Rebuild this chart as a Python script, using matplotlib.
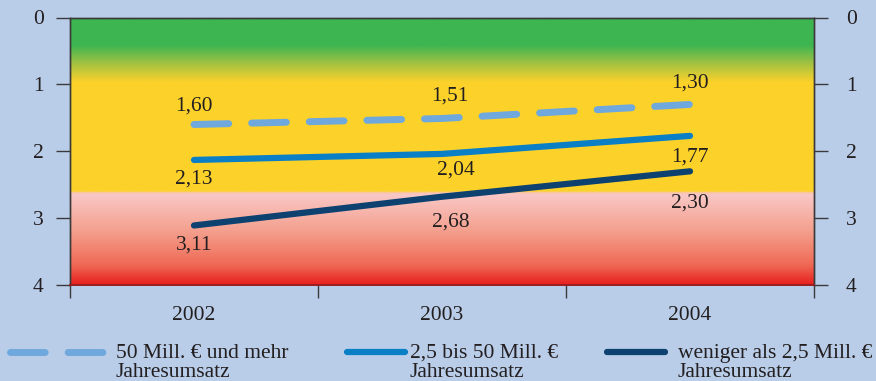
import matplotlib

matplotlib.use("Agg")

import matplotlib.pyplot as plt
import numpy as np
from matplotlib.colors import LinearSegmentedColormap
from matplotlib.lines import Line2D

# --------------------------------------------------------------------------- #
# Data
# --------------------------------------------------------------------------- #
years = ["2002", "2003", "2004"]
series_names = [
    ("50 Mill. € und mehr", "Jahresumsatz"),
    ("2,5 bis 50 Mill. €", "Jahresumsatz"),
    ("weniger als 2,5 Mill. €", "Jahresumsatz"),
]
large = [1.60, 1.51, 1.30]
medium = [2.13, 2.04, 1.77]
small = [3.11, 2.68, 2.30]

# --------------------------------------------------------------------------- #
# Style
# --------------------------------------------------------------------------- #
_BG = "#b9cde9"
_TEXT = "#231f20"
_SPINE = "#3a3a3a"
_LIGHT = "#6fa8dc"
_MID = "#0a7fc6"
_DARK = "#0c4170"
_FONT = "Liberation Serif"
_FS = 15.5

plt.rcParams["font.family"] = [_FONT, "DejaVu Serif"]

# label offsets in pixels (dx, dy) relative to each point, y up
label_offsets = [
    [(0, 18), (8, 22), (0, 21)],
    [(0, -19), (14, -16), (0, -21)],
    [(0, -20), (9, -25), (0, -32)],
]

fig = plt.figure(figsize=(8.76, 3.81), dpi=100, facecolor=_BG)
ax = fig.add_axes([70 / 876, 1 - 285 / 381, 744 / 876, 267.5 / 381])
ax.set_facecolor(_BG)

# background gradient: green -> yellow -> pink -> red
stops = [
    (0.0, "#3db651"),
    (0.42 / 4, "#3db651"),
    (0.70 / 4, "#a6c241"),
    (0.97 / 4, "#fcd22a"),
    (2.60 / 4, "#fcd22a"),
    (2.625 / 4, "#f9c4b0"),
    (2.65 / 4, "#f9c8c6"),
    (3.20 / 4, "#f49f8d"),
    (3.70 / 4, "#ef6a55"),
    (1.0, "#e81e1e"),
]
cmap = LinearSegmentedColormap.from_list("zones", stops, N=1024)
grad = np.linspace(0, 1, 1000).reshape(-1, 1)
ax.imshow(grad, cmap=cmap, aspect="auto", extent=(-0.5, 2.5, 4, 0),
          interpolation="bilinear", zorder=0)

xs = np.arange(len(years))
styles = [
    dict(color=_LIGHT, lw=5, ls=(0, (5, 3.3)), dash_capstyle="round"),
    dict(color=_MID, lw=4.5, solid_capstyle="round"),
    dict(color=_DARK, lw=4.5, solid_capstyle="round"),
]
for vals, st, offs in zip([large, medium, small], styles, label_offsets):
    ax.plot(xs, vals, zorder=3, **st)
    for x, v, (dx, dy) in zip(xs, vals, offs):
        ax.annotate(f"{v:.2f}".replace(".", ","), (x, v),
                    textcoords="offset pixels", xytext=(dx, dy),
                    ha="center", va="center", fontsize=_FS, color=_TEXT,
                    zorder=4)

ax.set_xlim(-0.5, 2.5)
ax.set_ylim(4, 0)

# x axis: labels at centers, ticks at boundaries
ax.set_xticks(xs)
ax.set_xticklabels(years)
ax.set_xticks([-0.5, 0.5, 1.5, 2.5], minor=True)
ax.tick_params(axis="x", which="major", length=0, pad=15, labelsize=_FS,
               labelcolor=_TEXT)
ax.tick_params(axis="x", which="minor", length=9.5, width=1, color=_SPINE,
               direction="out")

# y axis left
ax.set_yticks([0, 1, 2, 3, 4])
ax.tick_params(axis="y", which="major", length=10, width=1, color=_SPINE,
               pad=9, labelsize=_FS, labelcolor=_TEXT)

# y axis right
ax2 = ax.twinx()
ax2.set_ylim(4, 0)
ax2.set_yticks([0, 1, 2, 3, 4])
ax2.tick_params(axis="y", length=10, width=1, color=_SPINE, pad=13,
                labelsize=_FS, labelcolor=_TEXT)

for a in (ax, ax2):
    for side in ("left", "right", "top"):
        a.spines[side].set_color(_SPINE)
        a.spines[side].set_linewidth(1)
    a.spines["bottom"].set_color("#9b1c1c")
    a.spines["bottom"].set_linewidth(1.2)

# legend drawn manually in figure pixels
W, H = 876, 381
handles = [(10, 105), (347, 405), (607, 665)]
text_x = [116, 410, 678]
for (x0, x1), st, tx, (l1, l2) in zip(handles, styles, text_x, series_names):
    fig.add_artist(Line2D([x0 / W, x1 / W], [1 - 352 / H, 1 - 352 / H],
                          transform=fig.transFigure, **st))
    fig.text(tx / W, 1 - 358 / H, l1, fontsize=_FS, color=_TEXT,
             ha="left", va="baseline")
    fig.text(tx / W, 1 - 377 / H, l2, fontsize=_FS, color=_TEXT,
             ha="left", va="baseline")

fig.savefig("out.png", dpi=100, facecolor=_BG)
